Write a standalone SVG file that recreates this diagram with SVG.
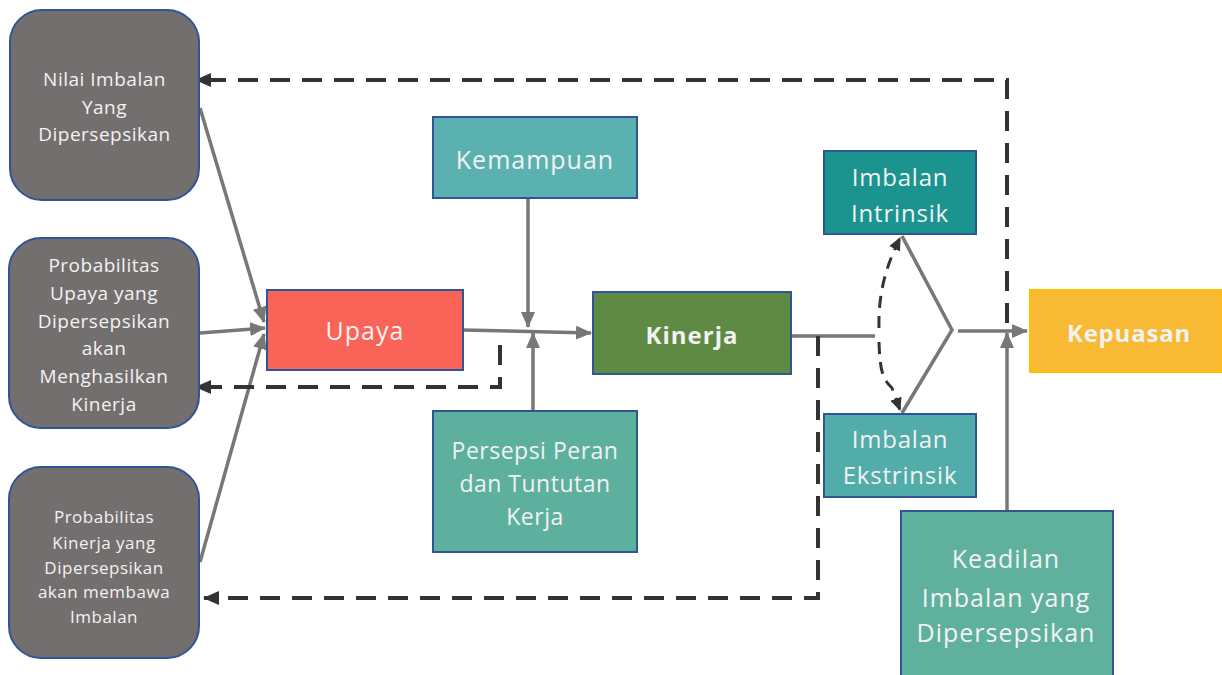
<svg xmlns="http://www.w3.org/2000/svg" width="1222" height="675" viewBox="0 0 1222 675">
<style>
.t{font-family:"Open Sans","Liberation Sans",sans-serif;fill:#f2f2f2;text-anchor:middle;dominant-baseline:central}
.g{fill:#736f6e;stroke:#2f5597;stroke-width:2}
.b{stroke:#2f5597;stroke-width:2}
.s{fill:none;stroke:#7a7675;stroke-width:3.5}
.d{fill:none;stroke:#333333;stroke-width:4;stroke-dasharray:20 12}
.d2{fill:none;stroke:#333333;stroke-width:3;stroke-dasharray:12 8}
</style>
<defs>
<marker id="agb" markerWidth="16" markerHeight="14" refX="15" refY="7" orient="auto" markerUnits="userSpaceOnUse" viewBox="0 0 16 14"><path d="M0,0 L16,7 L0,14 z" fill="#7a7675"/></marker>
<marker id="ad" markerWidth="16" markerHeight="14" refX="15" refY="7" orient="auto" markerUnits="userSpaceOnUse" viewBox="0 0 16 14"><path d="M0,0 L16,7 L0,14 z" fill="#333333"/></marker>
<marker id="ad2" markerWidth="13" markerHeight="12" refX="12" refY="6" orient="auto" markerUnits="userSpaceOnUse" viewBox="0 0 13 12"><path d="M0,0 L13,6 L0,12 z" fill="#333333"/></marker>
</defs>
<rect width="1222" height="675" fill="#ffffff"/>
<g id="connectors">
<path class="s" d="M200,108 L264,322" marker-end="url(#agb)"/>
<path class="s" d="M200,333 L265,328" marker-end="url(#agb)"/>
<path class="s" d="M200,562 L264,334" marker-end="url(#agb)"/>
<path class="s" d="M463,330 L591,333" marker-end="url(#agb)"/>
<path class="s" d="M528,198 L528,327" marker-end="url(#agb)"/>
<path class="s" d="M533,411 L533,333" marker-end="url(#agb)"/>
<path class="s" d="M791,336 L875,336"/>
<path class="s" d="M902,236 L952,330 L902,413"/>
<path class="s" d="M958,331 L1027,331" marker-end="url(#agb)"/>
<path class="s" d="M1007,520 L1007,333" marker-end="url(#agb)"/>
<path class="d" d="M1007,323 L1007,80 L196,80" marker-end="url(#ad)"/>
<path class="d" d="M500,345 L500,387 L196,387" marker-end="url(#ad)"/>
<path class="d" d="M818,336 L818,598 L204,598" marker-end="url(#ad)"/>
<path class="d2" d="M879,328 C878,290 888,262 900,238" marker-end="url(#ad2)"/>
<path class="d2" d="M879,342 C880,375 884,380 892,388 L900,410" marker-end="url(#ad2)"/>
</g>
<g id="nilai">
<rect class="g" x="10" y="10" width="189" height="190" rx="32"/>
<text class="t" font-size="19" letter-spacing="0.5"><tspan x="104.5" y="79">Nilai Imbalan</tspan><tspan x="104.5" y="107">Yang</tspan><tspan x="104.5" y="134">Dipersepsikan</tspan></text>
</g>
<g id="probUpaya">
<rect class="g" x="9" y="238" width="190" height="190" rx="32"/>
<text class="t" font-size="19" letter-spacing="0.5"><tspan x="104" y="265">Probabilitas</tspan><tspan x="104" y="293">Upaya yang</tspan><tspan x="104" y="321">Dipersepsikan</tspan><tspan x="104" y="348">akan</tspan><tspan x="104" y="376">Menghasilkan</tspan><tspan x="104" y="404">Kinerja</tspan></text>
</g>
<g id="probKinerja">
<rect class="g" x="9" y="467" width="190" height="191" rx="32"/>
<text class="t" font-size="17" letter-spacing="0.5"><tspan x="104" y="516">Probabilitas</tspan><tspan x="104" y="542">Kinerja yang</tspan><tspan x="104" y="567">Dipersepsikan</tspan><tspan x="104" y="591">akan membawa</tspan><tspan x="104" y="616">Imbalan</tspan></text>
</g>
<g id="upaya">
<rect class="b" x="267" y="290" width="196" height="80" fill="#fa6458"/>
<text class="t" font-size="25" letter-spacing="1" x="365" y="330">Upaya</text>
</g>
<g id="kemampuan">
<rect class="b" x="433" y="117" width="204" height="81" fill="#5bb1b0"/>
<text class="t" font-size="25" letter-spacing="1" x="535" y="159">Kemampuan</text>
</g>
<g id="persepsi">
<rect class="b" x="433" y="411" width="204" height="141" fill="#5eb09e"/>
<text class="t" font-size="23" letter-spacing="0.5"><tspan x="535" y="450">Persepsi Peran</tspan><tspan x="535" y="483">dan Tuntutan</tspan><tspan x="535" y="516">Kerja</tspan></text>
</g>
<g id="kinerja">
<rect class="b" x="593" y="292" width="198" height="82" fill="#5f8a43"/>
<text class="t" font-size="24" font-weight="bold" letter-spacing="1" x="692" y="334">Kinerja</text>
</g>
<g id="intrinsik">
<rect class="b" x="824" y="151" width="152" height="83" fill="#1b948f"/>
<text class="t" font-size="24" letter-spacing="0.8"><tspan x="900" y="176">Imbalan</tspan><tspan x="900" y="212">Intrinsik</tspan></text>
</g>
<g id="ekstrinsik">
<rect class="b" x="824" y="414" width="152" height="83" fill="#52acaa"/>
<text class="t" font-size="24" letter-spacing="0.8"><tspan x="900" y="438">Imbalan</tspan><tspan x="900" y="474">Ekstrinsik</tspan></text>
</g>
<g id="kepuasan">
<rect x="1030" y="290" width="192" height="82" fill="#f8b935" stroke="#ffc000" stroke-width="2"/>
<text class="t" font-size="24" font-weight="bold" letter-spacing="0.8" x="1129" y="332">Kepuasan</text>
</g>
<g id="keadilan">
<rect class="b" x="901" y="511" width="212" height="170" fill="#60b09e"/>
<text class="t" font-size="25" letter-spacing="1"><tspan x="1006" y="558">Keadilan</tspan><tspan x="1006" y="597">Imbalan yang</tspan><tspan x="1006" y="632">Dipersepsikan</tspan></text>
</g>
</svg>
